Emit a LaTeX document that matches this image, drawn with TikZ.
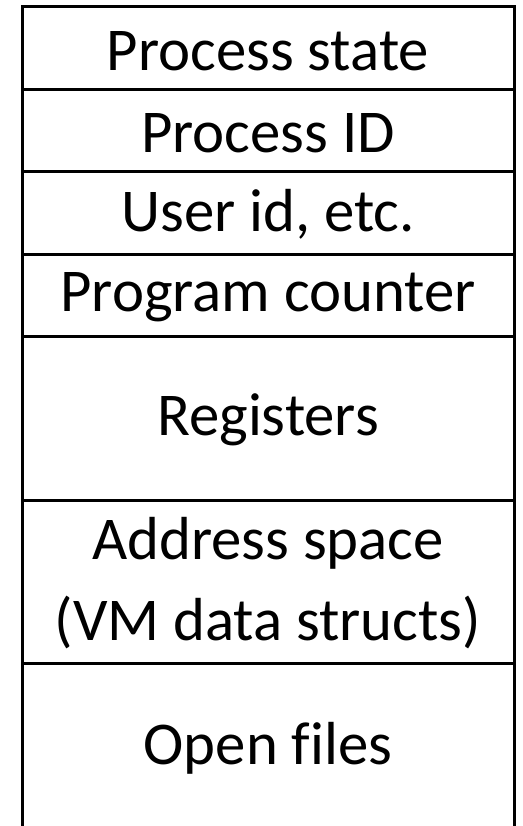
\documentclass[tikz,border=0pt]{standalone}
\usepackage{fontspec}
\setmainfont[Ligatures=NoCommon]{Carlito}
\begin{document}
\begin{tikzpicture}[x=1bp,y=-1bp,
  rule/.style={line width=3bp},
  field/.style={font=\fontsize{61}{81}\selectfont, inner sep=0pt, align=center}]
\useasboundingbox (0,0) rectangle (523,826);
\fill[white] (0,0) rectangle (523,826);

% outer frame (open at the bottom edge)
\draw[rule] (22,828) -- (22,6.5) -- (514,6.5) -- (514,828);

% field separators
\foreach \yy in {89,171,254,336,500,663}
  \draw[rule] (22,\yy) -- (514,\yy);

% field labels
\node[field] (state) at (268,51) {Process state};
\node[field] (pid)   at (268,133) {Process ID};
\node[field] (uid)   at (268,214) {User id, etc.};
\node[field] (pc)    at (268,297) {Program counter};
\node[field] (regs)  at (268,420) {Registers};
\node[field] (addr)  at (268,583) {Address space\\(VM data structs)};
\node[field] (files) at (268,748) {Open files};
\end{tikzpicture}
\end{document}
